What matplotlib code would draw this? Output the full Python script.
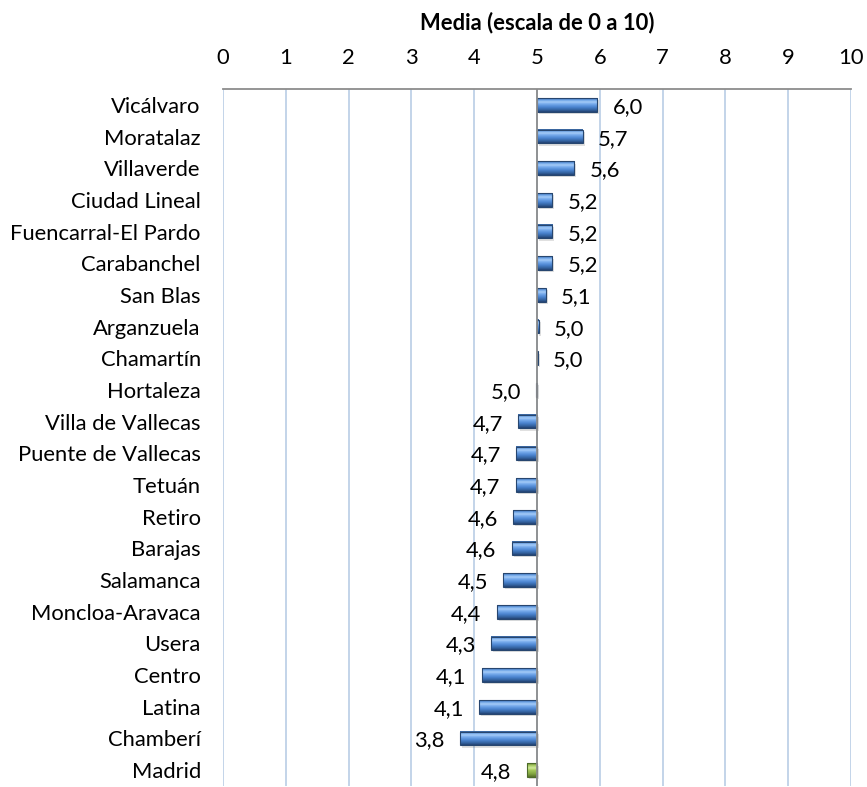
import numpy as np
import matplotlib
matplotlib.use("Agg")
import matplotlib.pyplot as plt
from matplotlib.colors import LinearSegmentedColormap

plt.rcParams['font.family'] = ['Lato', 'DejaVu Sans']

districts = ["Vicálvaro", "Moratalaz", "Villaverde", "Ciudad Lineal",
             "Fuencarral-El Pardo", "Carabanchel", "San Blas", "Arganzuela",
             "Chamartín", "Hortaleza", "Villa de Vallecas", "Puente de Vallecas",
             "Tetuán", "Retiro", "Barajas", "Salamanca", "Moncloa-Aravaca",
             "Usera", "Centro", "Latina", "Chamberí", "Madrid"]
means = [5.96, 5.73, 5.59, 5.24, 5.24, 5.24, 5.14, 5.03, 5.01, 4.99, 4.70,
         4.67, 4.66, 4.62, 4.60, 4.46, 4.36, 4.27, 4.12, 4.08, 3.77, 4.84]
xticks = list(range(0, 11))
axis_title = "Media (escala de 0 a 10)"
baseline = 5.0

FS = 15.8
W, H = 867, 787
fig = plt.figure(figsize=(W / 100, H / 100), dpi=100)
ax = fig.add_axes([223 / W, 1 / H, 628 / W, (786 - 89) / H])

blue_cmap = LinearSegmentedColormap.from_list(
    "bevel_blue",
    [(0.0, "#2d5286"), (0.1, "#5f98e0"), (0.28, "#a7cdf8"),
     (0.42, "#76aaec"), (0.65, "#4b84cf"), (0.86, "#33629f"), (1.0, "#234372")])
green_cmap = LinearSegmentedColormap.from_list(
    "bevel_green",
    [(0.0, "#5e7a2c"), (0.15, "#a4c85e"), (0.35, "#d2ea9c"),
     (0.5, "#a6cb5c"), (0.8, "#7fa23e"), (1.0, "#56702a")])
grad = np.linspace(0, 1, 64).reshape(-1, 1)

n = len(districts)
ypos = np.arange(n)
bar_h = 0.43

ax.set_xlim(0, 10)
ax.set_ylim(n - 0.5, -0.5)

for i, (name, v) in enumerate(zip(districts, means)):
    x0, x1 = min(baseline, v), max(baseline, v)
    cmap = green_cmap if name == "Madrid" else blue_cmap
    edge = "#4d6b2a" if name == "Madrid" else "#27466f"
    # soft drop shadow
    ax.barh(i + 0.07, x1 - x0, left=x0 + 0.03, height=bar_h,
            color="#000000", alpha=0.12, linewidth=0, zorder=2)
    ax.imshow(grad, cmap=cmap, aspect="auto", interpolation="bilinear",
              extent=[x0, x1, i + bar_h / 2, i - bar_h / 2], zorder=3)
    ax.barh(i, x1 - x0, left=x0, height=bar_h, facecolor="none",
            edgecolor=edge, linewidth=0.8, zorder=4)
    label = f"{v:.1f}".replace(".", ",")
    if v >= baseline:
        ax.annotate(label, (v, i), xytext=(11, -1.5), textcoords="offset points",
                    ha="left", va="center", fontsize=FS, color="black")
    else:
        ax.annotate(label, (v, i), xytext=(-11, -1.5), textcoords="offset points",
                    ha="right", va="center", fontsize=FS, color="black")

ax.set_xlim(0, 10)
ax.set_ylim(n - 0.5, -0.5)

# grid and axes
for x in xticks:
    ax.axvline(x, color="#b9cde5", linewidth=1.2, zorder=1)
ax.axvline(baseline, color="#8c8c8c", linewidth=1.3, zorder=5)
for s in ["left", "right", "bottom"]:
    ax.spines[s].set_visible(False)
ax.spines["top"].set_color("#8c8c8c")
ax.spines["top"].set_linewidth(1.3)

ax.xaxis.tick_top()
ax.set_xticks(xticks)
ax.set_xticklabels([str(t) for t in xticks])
ax.tick_params(axis="x", length=0, pad=15, labelsize=FS)
ax.set_yticks(ypos)
ax.set_yticklabels(districts)
ax.tick_params(axis="y", length=0, pad=16, labelsize=FS)

fig.text(537 / W, 1 - 23 / H, axis_title, ha="center", va="center",
         fontsize=FS, fontweight="bold")

fig.savefig("out.png", dpi=100)
